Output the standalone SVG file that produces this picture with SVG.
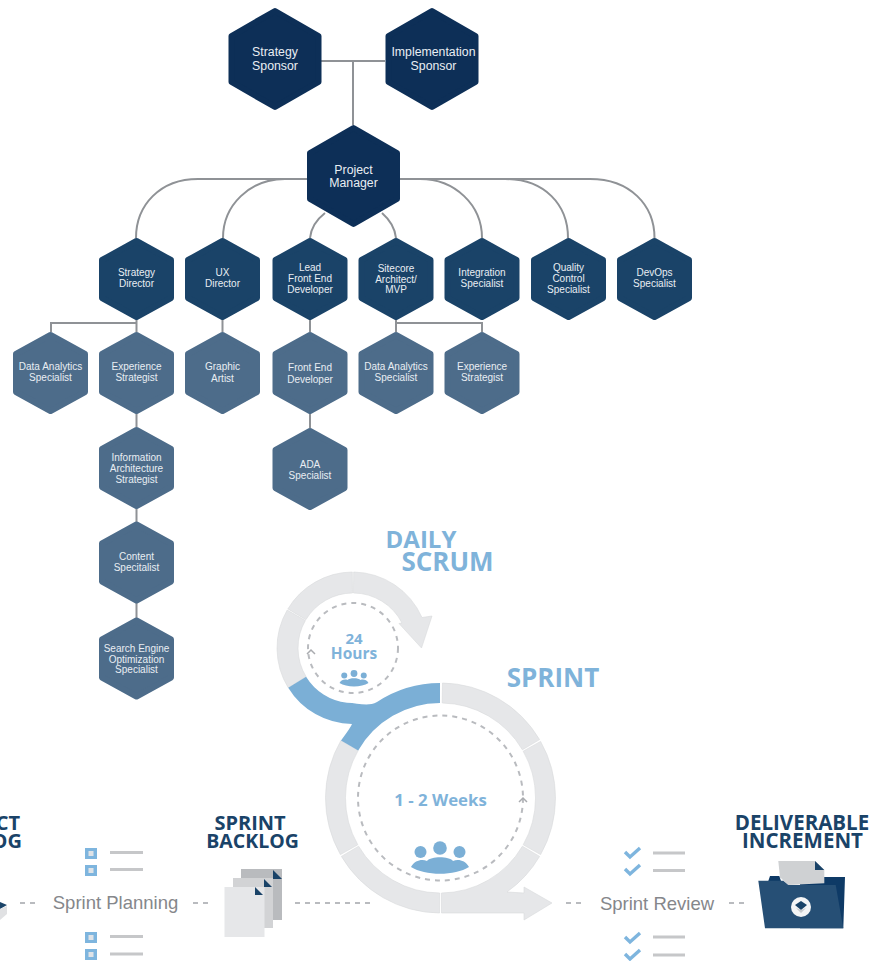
<svg xmlns="http://www.w3.org/2000/svg" width="871" height="961" viewBox="0 0 871 961">
<style>
.lbl{font-family:"Liberation Sans",Arial,sans-serif;text-anchor:middle;fill:#e9eef3}
.l1{font-size:12.3px}.l2{font-size:10px}
.conn{fill:none;stroke:#8f9296;stroke-width:2}
.dash{fill:none;stroke:#b9bbbf;stroke-width:2;stroke-dasharray:5 5}
.ring{fill:#e6e7e9;stroke:#d9dadc;stroke-width:.6}
.blue{fill:#7bafd6}
.head{font-family:"Open Sans","Liberation Sans",sans-serif;font-weight:700;text-anchor:middle}
.navy{fill:#1a4368}.sky{fill:#7fb3da}
.cap{font-family:"Liberation Sans",Arial,sans-serif;font-size:18.5px;fill:#85878b;text-anchor:middle}
.rule{stroke:#c6c7c9;stroke-width:3;fill:none}
.chk{fill:none;stroke:#7eb5de;stroke-width:3.4}
</style>
<defs>
<polygon id="hexA" points="0,-48 43.5,-23 43.5,23 0,48 -43.5,23 -43.5,-23" fill="#0d2f57" stroke="#0d2f57" stroke-width="6" stroke-linejoin="round"/>
<polygon id="hexB" points="0,-38 34.5,-19 34.5,19 0,38 -34.5,19 -34.5,-19" fill="#1a4368" stroke="#1a4368" stroke-width="6" stroke-linejoin="round"/>
<polygon id="hexC" points="0,-38 34.5,-19 34.5,19 0,38 -34.5,19 -34.5,-19" fill="#4d6c8a" stroke="#4d6c8a" stroke-width="6" stroke-linejoin="round"/>
<g id="people" class="blue">
<circle cx="0" cy="-2" r="6.8"/><circle cx="-19.5" cy="2" r="6"/><circle cx="19.5" cy="2" r="6"/>
<path d="M-29 17C-25 10-18 9-13 11C-9 6 9 6 13 11C18 9 25 10 29 17C15 26-15 26-29 17Z"/>
</g>
<g id="box"><rect width="12" height="11" fill="#7eb5de"/><rect x="3.5" y="3" width="5" height="5" fill="#dfe3e7"/></g>
<path id="tick" class="chk" d="M0 5L5 10L15 1"/>
</defs>

<g id="connectors">
<path class="conn" d="M321 61H385M353 61V125"/>
<path class="conn" d="M307 179H198C160 179 136 205 136 238"/>
<path class="conn" d="M307 179H285C250 179 223 205 223 238"/>
<path class="conn" d="M325 213C316 220 311 228 310 238"/>
<path class="conn" d="M382 213C390 220 395 228 396 238"/>
<path class="conn" d="M400 179H420C455 179 482 205 482 238"/>
<path class="conn" d="M400 179H505C545 179 568 205 568 238"/>
<path class="conn" d="M400 179H590C630 179 654.5 205 654.5 238"/>
<path class="conn" d="M136.5 320V332M51 332V323H136.5"/>
<path class="conn" d="M222.500 320V332M310 320V332M396 320V332M396 323H482V332"/>
<path class="conn" d="M136.500 414V427M136.500 509V522M136.500 603V618M310 414V428"/>
</g>

<g id="strategy-sponsor"><use href="#hexA" x="275" y="59"/><text class="lbl l1" x="275" y="56">Strategy</text><text class="lbl l1" x="275" y="70">Sponsor</text></g>
<g id="implementation-sponsor"><use href="#hexA" x="432" y="59"/><text class="lbl l1" x="433.500" y="56">Implementation</text><text class="lbl l1" x="433.500" y="70">Sponsor</text></g>
<g id="project-manager"><use href="#hexA" x="353.5" y="176"/><text class="lbl l1" x="353.5" y="174">Project</text><text class="lbl l1" x="353.5" y="187">Manager</text></g>

<g id="strategy-director"><use href="#hexB" x="136.5" y="279"/><text class="lbl l2" x="136.5" y="276">Strategy</text><text class="lbl l2" x="136.5" y="287">Director</text></g>
<g id="ux-director"><use href="#hexB" x="222.5" y="279"/><text class="lbl l2" x="222.5" y="276">UX</text><text class="lbl l2" x="222.5" y="287">Director</text></g>
<g id="lead-fe"><use href="#hexB" x="310" y="279"/><text class="lbl l2" x="310" y="271">Lead</text><text class="lbl l2" x="310" y="282">Front End</text><text class="lbl l2" x="310" y="293">Developer</text></g>
<g id="sitecore"><use href="#hexB" x="396" y="279"/><text class="lbl l2" x="396" y="272">Sitecore</text><text class="lbl l2" x="396" y="283">Architect/</text><text class="lbl l2" x="396" y="293">MVP</text></g>
<g id="integration"><use href="#hexB" x="482" y="279"/><text class="lbl l2" x="482" y="276">Integration</text><text class="lbl l2" x="482" y="287">Specialist</text></g>
<g id="quality"><use href="#hexB" x="568.5" y="279"/><text class="lbl l2" x="568.5" y="271">Quality</text><text class="lbl l2" x="568.5" y="282">Control</text><text class="lbl l2" x="568.5" y="293">Specialist</text></g>
<g id="devops"><use href="#hexB" x="654.5" y="279"/><text class="lbl l2" x="654.5" y="276">DevOps</text><text class="lbl l2" x="654.5" y="287">Specialist</text></g>

<g id="data-1"><use href="#hexC" x="50.500" y="373"/><text class="lbl l2" x="50.500" y="370">Data Analytics</text><text class="lbl l2" x="50.500" y="381">Specialist</text></g>
<g id="exp-1"><use href="#hexC" x="136.5" y="373"/><text class="lbl l2" x="136.5" y="370">Experience</text><text class="lbl l2" x="136.5" y="381">Strategist</text></g>
<g id="graphic"><use href="#hexC" x="222.5" y="373"/><text class="lbl l2" x="222.5" y="370">Graphic</text><text class="lbl l2" x="222.5" y="382">Artist</text></g>
<g id="fe-dev"><use href="#hexC" x="310" y="373"/><text class="lbl l2" x="310" y="371">Front End</text><text class="lbl l2" x="310" y="383">Developer</text></g>
<g id="data-2"><use href="#hexC" x="396" y="373"/><text class="lbl l2" x="396" y="370">Data Analytics</text><text class="lbl l2" x="396" y="381">Specialist</text></g>
<g id="exp-2"><use href="#hexC" x="482" y="373"/><text class="lbl l2" x="482" y="370">Experience</text><text class="lbl l2" x="482" y="381">Strategist</text></g>
<g id="info-arch"><use href="#hexC" x="136.5" y="468"/><text class="lbl l2" x="136.5" y="461">Information</text><text class="lbl l2" x="136.5" y="472">Architecture</text><text class="lbl l2" x="136.5" y="483">Strategist</text></g>
<g id="ada"><use href="#hexC" x="310" y="469"/><text class="lbl l2" x="310" y="468">ADA</text><text class="lbl l2" x="310" y="479">Specialist</text></g>
<g id="content"><use href="#hexC" x="136.5" y="562.500"/><text class="lbl l2" x="136.5" y="560">Content</text><text class="lbl l2" x="136.5" y="571">Specitalist</text></g>
<g id="seo"><use href="#hexC" x="136.5" y="658.500"/><text class="lbl l2" x="136.5" y="652">Search Engine</text><text class="lbl l2" x="136.5" y="663">Optimization</text><text class="lbl l2" x="136.5" y="673">Specialist</text></g>

<g id="scrum-cycle">
<path class="ring" d="M288.2 687.7A76 76 0 0 1 287.2 610L305.4 620.5A55 55 0 0 0 306.1 676.7Z"/>
<path class="ring" d="M287.900 608.900A76 76 0 0 1 352.3 572L352.500 593A55 55 0 0 0 305.900 619.7Z"/>
<path class="ring" d="M353.700 572A76 76 0 0 1 422 617.5L432 616L421.500 648L399 623.500L402 623A55 55 0 0 0 353.500 593Z"/>
<circle class="dash" cx="353" cy="648" r="45"/>
<path fill="none" stroke="#a9abaf" stroke-width="1.500" d="M307 654L311 650L315 654"/>
<text class="head sky" x="354" y="644" font-size="15">24</text>
<text class="head sky" x="354" y="659" font-size="15.500">Hours</text>
<use href="#people" transform="translate(354 674.500) scale(.5)"/>
<text class="head sky" x="421" y="548" font-size="24">DAILY</text>
<text class="head sky" x="447.500" y="571" font-size="26">SCRUM</text>
</g>

<g id="sprint-cycle">
<path class="ring" d="M442.500 683A115 115 0 0 1 539.600 739.600L522.400 749.800A95 95 0 0 0 442.200 703Z"/>
<path class="ring" d="M540.600 741.400A115 115 0 0 1 540.600 854.600L523.200 844.800A95 95 0 0 0 523.200 751.200Z"/>
<path class="ring" d="M539.600 856.400A115 115 0 0 1 507 892L524 893V887L552 903L524 920V913H441.500V893A95 95 0 0 0 522.400 846.200Z"/>
<path class="ring" d="M439.500 913A115 115 0 0 1 341.400 856.400L358.600 846.200A95 95 0 0 0 439.700 893Z"/>
<path class="ring" d="M340.400 854.600A115 115 0 0 1 340.900 740.500L358.200 750.500A95 95 0 0 0 357.800 844.800Z"/>
<path class="blue" d="M288.200 687.700A76 76 0 0 0 352 724Q351 727 341 740.500L358.200 750.500A95 95 0 0 1 440 703V683A115 115 0 0 0 377 702C368 707 358 703 347 702.700A55 55 0 0 1 306.100 676.700Z"/>
<circle class="dash" cx="440.500" cy="798" r="82.500"/>
<path fill="none" stroke="#a9abaf" stroke-width="1.500" d="M519 802L523 798L527 802"/>
<text class="head sky" x="440.500" y="806" font-size="16.800">1 - 2 Weeks</text>
<use href="#people" transform="translate(440 850)"/>
<text class="head sky" x="553" y="687" font-size="26">SPRINT</text>
</g>

<g id="flow-lines">
<path class="dash" stroke-dasharray="7 6" d="M20 903H38M193 903H210M295 903H370M566 903H585M729 903H747"/>
</g>

<g id="product-backlog">
<text class="head navy" style="text-anchor:end" x="20" y="830" font-size="20">CT</text>
<text class="head navy" style="text-anchor:end" x="22" y="848" font-size="20">OG</text>
<path fill="#1a4368" d="M0 902L7 905L0 909Z"/>
<path fill="#e0e1e3" d="M0 909L7 906V914L0 920Z"/>
</g>

<g id="sprint-planning">
<use href="#box" x="85" y="848"/><use href="#box" x="85" y="865"/><use href="#box" x="85" y="932"/><use href="#box" x="85" y="949"/>
<path class="rule" d="M110 852.500H143M110 869.500H143M110 936.500H143M110 954H143"/>
<text class="cap" x="115.500" y="909">Sprint Planning</text>
</g>

<g id="sprint-backlog">
<text class="head navy" x="250" y="830" font-size="20">SPRINT</text>
<text class="head navy" x="252.500" y="848" font-size="19.500">BACKLOG</text>
<rect x="241" y="869" width="41" height="51" fill="#b9bbbe"/><path fill="#1a4368" d="M273 870L282 879H273Z"/>
<rect x="233" y="878" width="40" height="50" fill="#d2d3d5"/><path fill="#1a4368" d="M264 879L272 887H264Z"/>
<rect x="224.500" y="887" width="40" height="50" fill="#e6e7e9"/><path fill="#1a4368" d="M255 887L263 895H255Z"/>
</g>

<g id="sprint-review">
<use href="#tick" x="625" y="847"/><use href="#tick" x="625" y="864"/><use href="#tick" x="625" y="932"/><use href="#tick" x="625" y="949"/>
<path class="rule" d="M653 853H685M653 870.500H685M653 937H685M653 955H685"/>
<text class="cap" x="657" y="910">Sprint Review</text>
</g>

<g id="deliverable">
<text class="head navy" x="802" y="830" font-size="20.500">DELIVERABLE</text>
<text class="head navy" x="802.500" y="848" font-size="20.500">INCREMENT</text>
<path fill="#0e3a66" d="M768.300 881L770 876H779.300L781 881H790V877H845L843.300 928.300H800V881Z"/>
<path fill="#cfd1d3" d="M778.300 861H815L824.300 870V883.300L788.300 885L780 877.300Z"/>
<path fill="#1a4368" d="M815 861L824.300 870H815Z"/>
<path fill="#264f75" d="M758.300 880.700H783.300L788.300 885H835.700L843.300 928.300H765Z"/>
<circle cx="801" cy="907" r="10" fill="#f4f5f6"/>
<path fill="#1a4368" d="M795 905L801 901L807 905L801 910Z"/>
<path fill="#c9cbce" d="M796 908L801 910L806 908L801 913Z"/>
</g>
</svg>
